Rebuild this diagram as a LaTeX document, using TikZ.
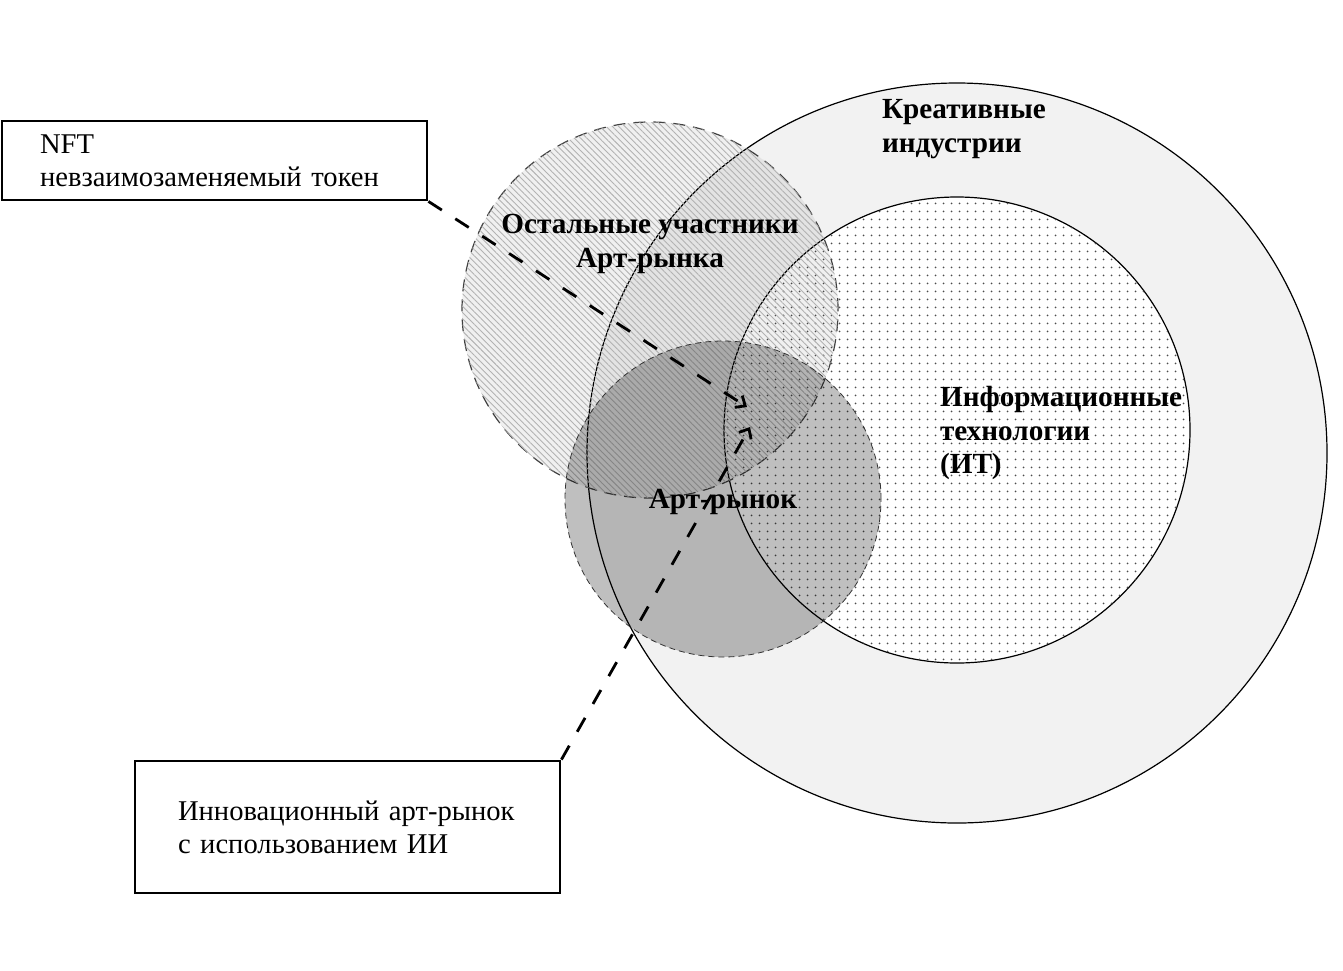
\documentclass[tikz,border=0pt]{standalone}
\usepackage{fontspec}
\setmainfont{Liberation Serif}
\usetikzlibrary{arrows.meta,patterns.meta}
\begin{document}
\begin{tikzpicture}[x=0.5pt,y=-0.5pt,
	box/.style={draw,line width=1.4pt,align=left,font=\fontsize{14.3}{16.5}\selectfont},
	lbl/.style={font=\bfseries\fontsize{14.6}{16.8}\selectfont},
	link/.style={line width=1.4pt,dash pattern=on 8pt off 8pt,-{Straight Barb[length=4pt,width=7pt]}}]
	\useasboundingbox (0,0) rectangle (1343,970);
	\draw[fill=black!5,semithick] (957,453) circle[radius=185pt];
	\draw[fill=white,semithick] (957,430) circle[radius=116.5pt];
	\fill[pattern={Dots[distance=4pt,radius=0.55pt]},pattern color=black!70] (957,430) circle[radius=116.5pt];
	\draw[dash pattern=on 6pt off 4pt,semithick,draw=black!75,fill=black,fill opacity=0.06] (650,310) circle[radius=94pt];
	\fill[pattern={Lines[angle=-45,distance=2.2pt,line width=0.45pt]},pattern color=black!30] (650,310) circle[radius=94pt];
	\draw[densely dashed,thin,draw=black!80,fill=black,fill opacity=0.25] (723,499) circle[radius=79pt];
	\node[lbl,align=left,anchor=west] (kreat) at (875,129) {Креативные\\индустрии};
	\node[lbl,align=center] (other) at (650,244) {Остальные участники\\Арт-рынка};
	\node[lbl] (art) at (723,502) {Арт-рынок};
	\node[lbl,align=left,anchor=west] (it) at (933,433) {Информационные\\технологии\\(ИТ)};
	\node[box,minimum width=212.5pt,minimum height=39.5pt,inner xsep=19pt,text width=174.5pt] (nft) at (214.5,160.5) {NFT\\невзаимозаменяемый токен};
	\node[box,minimum width=212.5pt,minimum height=66pt,inner xsep=21.5pt,text width=169.5pt] (ai) at (347.5,827) {Инновационный арт-рынок\\с использованием ИИ};
	\coordinate (t1) at (747,407);
	\coordinate (t2) at (750,427);
	\draw[link] (nft.south east) -- (t1);
	\draw[link] (ai.north east) -- (t2);
\end{tikzpicture}
\end{document}
